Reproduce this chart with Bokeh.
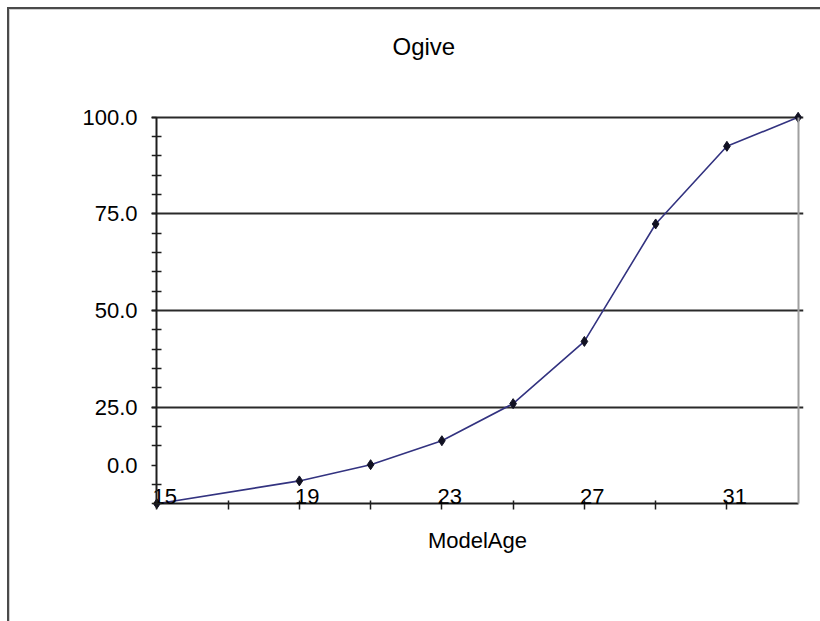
from bokeh.plotting import figure
from bokeh.models import FixedTicker, Range1d, LinearAxis
from bokeh.embed import file_html
from bokeh.resources import INLINE

# ---- data ----
ages = [15, 19, 21, 23, 25, 27, 29, 31, 33]
cum_pct = [0.0, 5.9, 10.1, 16.3, 25.9, 42.0, 72.4, 92.5, 100.0]

x_major = [15, 19, 23, 27, 31]
x_minor = [17, 21, 25, 29]
y_major = [10, 25, 50, 75, 100]
y_labels = {10: "0.0", 25: "25.0", 50: "50.0", 75: "75.0", 100: "100.0"}
y_grid = [25, 50, 75, 100]
y_minor = [0, 5, 15, 20, 30, 35, 40, 45, 55, 60, 65, 70, 80, 85, 90, 95]

title_text = "Ogive"
x_title = "ModelAge"

FONT = "Liberation Sans"
AXIS_COLOR = "#1e1e1e"

X0, X1 = 14.85, 33.15
Y0, Y1 = -1.5, 107.2
LABEL_SHIFT = 0.22   # tick labels sit slightly right of their ticks in the reference

p = figure(width=820, height=621, output_backend="svg", toolbar_location=None,
           x_range=Range1d(X0, X1), y_range=Range1d(Y0, Y1),
           x_axis_location=None, y_axis_location=None,
           min_border_left=151, min_border_right=17, min_border_top=88,
           min_border_bottom=112)
p.extra_x_ranges = {"lab": Range1d(X0 - LABEL_SHIFT, X1 - LABEL_SHIFT)}
p.styles = {"box-shadow": "inset 7px 7px 0 0 #ffffff, inset 9px 9px 0 0 #4a4a4a, "
                          "inset 10px 10px 0 0 #cfcfcf"}
p.outline_line_color = None
p.background_fill_color = "white"
p.border_fill_alpha = 0

p.title.text = title_text
p.title.align = "left"
p.title.offset = 241
p.title.standoff = 60
p.title.text_font = FONT
p.title.text_font_size = "24px"
p.title.text_font_style = "normal"
p.title.text_color = "black"

def style_lines(ax, tin, tout, min_in, min_out):
    ax.axis_line_color = AXIS_COLOR
    ax.axis_line_width = 2
    ax.major_tick_line_color = AXIS_COLOR
    ax.minor_tick_line_color = AXIS_COLOR
    ax.major_tick_line_width = 1.5
    ax.minor_tick_line_width = 1.5
    ax.major_tick_in = tin
    ax.major_tick_out = tout
    ax.minor_tick_in = min_in
    ax.minor_tick_out = min_out
    ax.major_label_text_color = None

def style_labels(ax):
    ax.axis_line_color = None
    ax.major_tick_line_color = None
    ax.minor_tick_line_color = None
    ax.major_tick_in = 0
    ax.major_tick_out = 0
    ax.minor_tick_in = 0
    ax.minor_tick_out = 0
    ax.major_label_text_font = FONT
    ax.major_label_text_font_size = "22px"
    ax.major_label_text_color = "black"

# x axis: line + ticks drawn at y = 0
xa = LinearAxis(fixed_location=0, bounds=(15, 33),
                ticker=FixedTicker(ticks=x_major, minor_ticks=x_minor))
style_lines(xa, 3, 8, 3, 8)
p.add_layout(xa, "below")

# y axis: line + ticks drawn at x = 15
ya = LinearAxis(fixed_location=15, bounds=(0, 100),
                ticker=FixedTicker(ticks=y_major, minor_ticks=y_minor))
style_lines(ya, 0, 8, 5, 5)
p.add_layout(ya, "left")

# plot-area right border at x = 33
rb = LinearAxis(fixed_location=33, bounds=(0, 100),
                ticker=FixedTicker(ticks=[], minor_ticks=[]))
rb.axis_line_color = "#a0a0a0"
rb.axis_line_width = 2
rb.major_tick_line_color = None
rb.minor_tick_line_color = None
rb.major_label_text_color = None
p.add_layout(rb, "right")

# tick labels
xl = LinearAxis(x_range_name="lab", ticker=FixedTicker(ticks=x_major, minor_ticks=[]))
style_labels(xl)
xl.major_label_standoff = -21
xl.axis_label = x_title
xl.axis_label_text_font = FONT
xl.axis_label_text_font_size = "22px"
xl.axis_label_text_font_style = "normal"
xl.axis_label_text_color = "black"
xl.axis_label_standoff = 21
p.add_layout(xl, "below")

yl = LinearAxis(ticker=FixedTicker(ticks=y_major, minor_ticks=[]))
style_labels(yl)
yl.major_label_overrides = y_labels
yl.major_label_standoff = 14
p.add_layout(yl, "left")

# grid
p.xgrid.visible = False
p.ygrid.ticker = FixedTicker(ticks=y_grid)
p.ygrid.grid_line_color = "#2a2a2a"
p.ygrid.grid_line_width = 2

# series
p.line(ages, cum_pct, line_color="#333380", line_width=1.6)
p.scatter(ages, cum_pct, marker="diamond", size=10, fill_color="#111122", line_color="#111122")

open("out.html", "w").write(file_html(p, INLINE))
